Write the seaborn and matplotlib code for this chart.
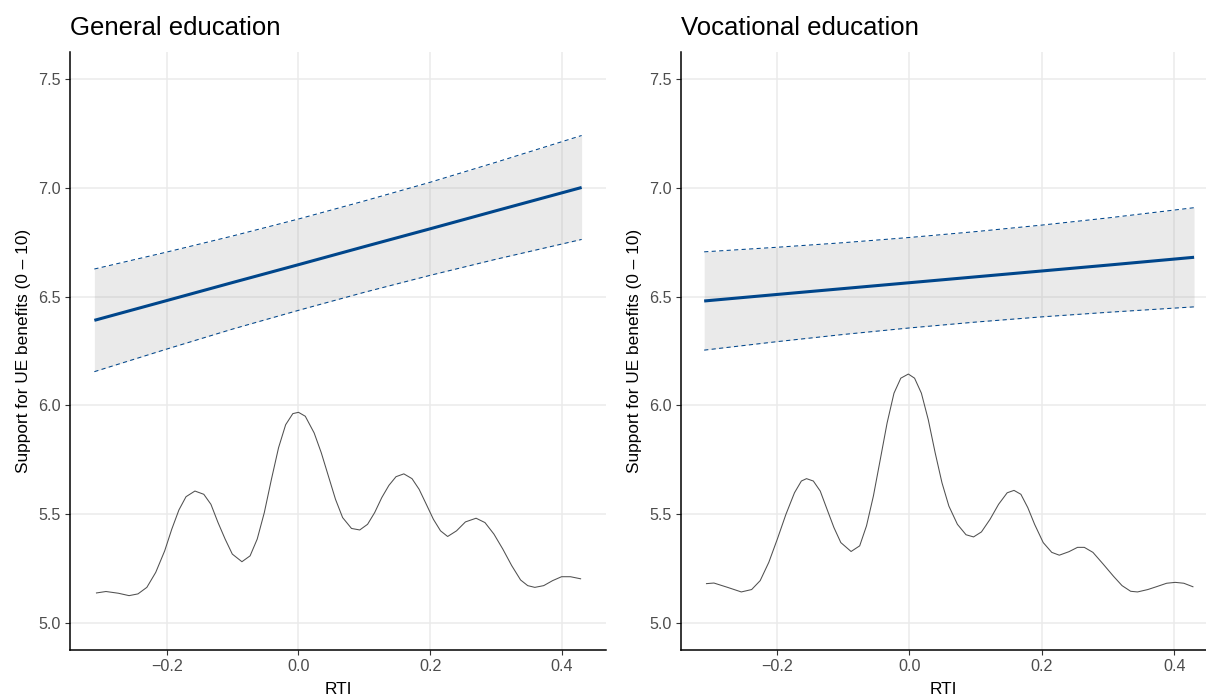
import numpy as np
import pandas as pd
import matplotlib
matplotlib.use("Agg")
import matplotlib.pyplot as plt
import seaborn as sns

# ---- data ----
titles = ["General education", "Vocational education"]
y_label = "Support for UE benefits (0 \u2013 10)"
x_label = "RTI"
x_ticks = [-0.2, 0.0, 0.2, 0.4]
x_tick_labels = ["\u22120.2", "0.0", "0.2", "0.4"]
y_ticks = [5.0, 5.5, 6.0, 6.5, 7.0, 7.5]

rti_grid = [-0.31, -0.2, -0.1, 0.0, 0.1, 0.2, 0.3, 0.43]
gen_fit = [6.391, 6.482, 6.565, 6.647, 6.730, 6.812, 6.895, 7.002]
gen_hi = [6.627, 6.705, 6.779, 6.857, 6.940, 7.026, 7.118, 7.241]
gen_lo = [6.155, 6.259, 6.351, 6.437, 6.520, 6.598, 6.672, 6.763]
voc_fit = [6.480, 6.510, 6.537, 6.564, 6.591, 6.618, 6.645, 6.681]
voc_hi = [6.706, 6.727, 6.748, 6.772, 6.799, 6.829, 6.862, 6.909]
voc_lo = [6.254, 6.293, 6.326, 6.356, 6.383, 6.407, 6.428, 6.453]

gen_dens_x = [-0.3076, -0.2924, -0.2735, -0.2573, -0.2438, -0.2303, -0.2168, -0.2032,
              -0.1924, -0.1816, -0.1708, -0.1573, -0.1438, -0.1330, -0.1222, -0.1114,
              -0.1005, -0.0859, -0.0735, -0.0627, -0.0519, -0.0411, -0.0303, -0.0195,
              -0.0086, 0.0000, 0.0103, 0.0238, 0.0346, 0.0454, 0.0562, 0.0670,
              0.0805, 0.0930, 0.1049, 0.1157, 0.1265, 0.1373, 0.1481, 0.1600,
              0.1724, 0.1832, 0.1941, 0.2049, 0.2157, 0.2265, 0.2400, 0.2535,
              0.2697, 0.2832, 0.2968, 0.3103, 0.3238, 0.3373, 0.3481, 0.3589,
              0.3724, 0.3859, 0.3995, 0.4130, 0.4292]
gen_dens_y = [5.137, 5.144, 5.136, 5.125, 5.133, 5.163, 5.232, 5.331,
              5.431, 5.519, 5.580, 5.606, 5.591, 5.545, 5.461, 5.385,
              5.316, 5.281, 5.308, 5.385, 5.507, 5.660, 5.805, 5.911,
              5.962, 5.968, 5.950, 5.873, 5.782, 5.675, 5.568, 5.484,
              5.434, 5.427, 5.453, 5.507, 5.576, 5.632, 5.672, 5.685,
              5.663, 5.614, 5.545, 5.476, 5.423, 5.397, 5.423, 5.464,
              5.481, 5.461, 5.408, 5.339, 5.263, 5.197, 5.171, 5.163,
              5.171, 5.194, 5.212, 5.212, 5.202]

voc_dens_x = [-0.3073, -0.2953, -0.2746, -0.2539, -0.2383, -0.2254, -0.2124, -0.1995,
              -0.1865, -0.1736, -0.1632, -0.1554, -0.1451, -0.1347, -0.1244, -0.1140,
              -0.1036, -0.0881, -0.0751, -0.0648, -0.0544, -0.0440, -0.0337, -0.0233,
              -0.0130, -0.0016, 0.0078, 0.0181, 0.0285, 0.0389, 0.0492, 0.0596,
              0.0725, 0.0855, 0.0969, 0.1088, 0.1218, 0.1347, 0.1477, 0.1580,
              0.1684, 0.1788, 0.1891, 0.2021, 0.2150, 0.2264, 0.2409, 0.2539,
              0.2642, 0.2772, 0.2927, 0.3083, 0.3212, 0.3342, 0.3446, 0.3601,
              0.3731, 0.3886, 0.4016, 0.4145, 0.4290]
voc_dens_y = [5.180, 5.183, 5.163, 5.142, 5.153, 5.194, 5.278, 5.385,
              5.499, 5.598, 5.652, 5.663, 5.652, 5.606, 5.522, 5.438,
              5.369, 5.328, 5.354, 5.446, 5.583, 5.751, 5.919, 6.056,
              6.125, 6.144, 6.125, 6.056, 5.934, 5.782, 5.644, 5.537,
              5.453, 5.405, 5.395, 5.418, 5.476, 5.545, 5.598, 5.609,
              5.591, 5.530, 5.453, 5.369, 5.324, 5.311, 5.327, 5.347,
              5.347, 5.324, 5.270, 5.214, 5.171, 5.145, 5.142, 5.153,
              5.166, 5.182, 5.186, 5.182, 5.165]

panels = [
    (gen_fit, gen_lo, gen_hi, gen_dens_x, gen_dens_y, (-0.347, 0.467)),
    (voc_fit, voc_lo, voc_hi, voc_dens_x, voc_dens_y, (-0.345, 0.448)),
]

# ---- style ----
sns.set_theme(style="white")
plt.rcParams["font.family"] = ["Liberation Sans", "DejaVu Sans"]

blue = "#00468B"
grid_c = "#EBEBEB"
tick_c = "#4D4D4D"

fig = plt.figure(figsize=(12.06, 6.96), dpi=100)
positions = [
    [70 / 1206, 1 - 650 / 696, 536 / 1206, 598 / 696],
    [681 / 1206, 1 - 650 / 696, 525 / 1206, 598 / 696],
]

for (fit, lo, hi, dx, dy, xlim), pos, title in zip(panels, positions, titles):
    ax = fig.add_axes(pos)
    df_fit = pd.DataFrame({"x": rti_grid, "fit": fit, "lo": lo, "hi": hi})
    df_d = pd.DataFrame({"x": dx, "y": dy})

    ax.fill_between(df_fit["x"], df_fit["lo"], df_fit["hi"], color="#999999",
                    alpha=0.2, linewidth=0, zorder=2)
    sns.lineplot(data=df_fit, x="x", y="hi", ax=ax, color=blue, linewidth=0.75,
                 dashes=(4, 3.2), zorder=3, estimator=None, sort=False)
    sns.lineplot(data=df_fit, x="x", y="lo", ax=ax, color=blue, linewidth=0.75,
                 dashes=(4, 3.2), zorder=3, estimator=None, sort=False)
    sns.lineplot(data=df_fit, x="x", y="fit", ax=ax, color=blue, linewidth=2.2,
                 zorder=4, estimator=None, sort=False)
    sns.lineplot(data=df_d, x="x", y="y", ax=ax, color="#505050", linewidth=0.75,
                 zorder=3, estimator=None, sort=False)
    for ln in ax.lines:
        ln.set_solid_joinstyle("round")
        ln.set_solid_capstyle("butt")

    ax.set_xlim(*xlim)
    ax.set_ylim(4.875, 7.625)
    ax.set_xticks(x_ticks)
    ax.set_xticklabels(x_tick_labels)
    ax.set_yticks(y_ticks)
    ax.set_yticklabels([f"{v:.1f}" for v in y_ticks])

    ax.grid(True, which="major", color=grid_c, linewidth=1.1, zorder=0)
    ax.set_axisbelow(True)

    for side in ["top", "right"]:
        ax.spines[side].set_visible(False)
    for side in ["left", "bottom"]:
        ax.spines[side].set_color("black")
        ax.spines[side].set_linewidth(1.1)

    ax.tick_params(axis="both", which="major", direction="out", length=3.5,
                   width=0.8, color="#333333", labelcolor=tick_c, labelsize=11.6,
                   pad=3, bottom=True, left=True)

    ax.set_xlabel(x_label, fontsize=12.4, color="black", labelpad=6)
    ax.set_ylabel(y_label, fontsize=12.4, color="black", labelpad=5)
    ax.set_title(title, loc="left", fontsize=18.5, color="black", pad=12)

fig.savefig("out.png", dpi=100)
